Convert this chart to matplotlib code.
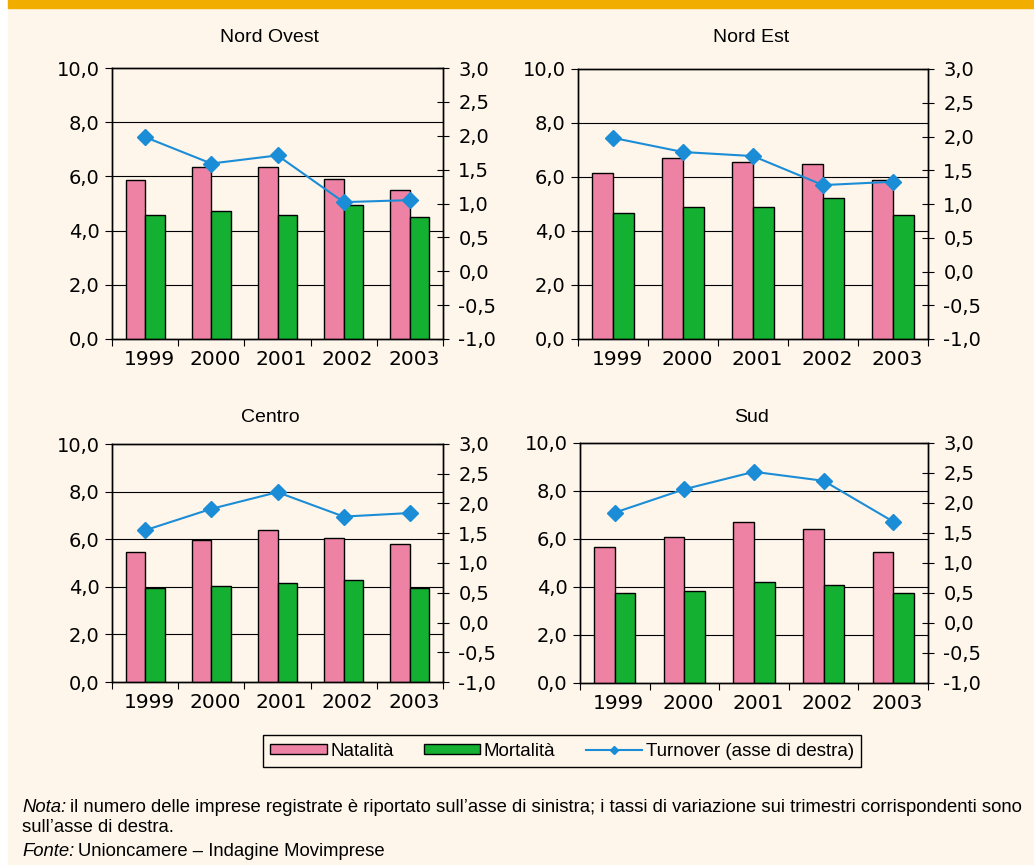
import matplotlib
matplotlib.use("Agg")
import matplotlib.pyplot as plt
import matplotlib.transforms as mtransforms
from matplotlib.patches import Rectangle, Patch
from matplotlib.lines import Line2D
from matplotlib.ticker import FuncFormatter
import numpy as np

years = ["1999", "2000", "2001", "2002", "2003"]

# tassi di natalità / mortalità (asse sinistro) e turnover (asse destro)
natalita_nord_ovest = [5.85, 6.33, 6.33, 5.92, 5.51]
mortalita_nord_ovest = [4.58, 4.73, 4.58, 4.93, 4.52]
turnover_nord_ovest = [1.98, 1.59, 1.71, 1.02, 1.05]

natalita_nord_est = [6.15, 6.70, 6.57, 6.49, 5.88]
mortalita_nord_est = [4.68, 4.88, 4.88, 5.21, 4.60]
turnover_nord_est = [1.98, 1.77, 1.71, 1.28, 1.33]

natalita_centro = [5.47, 5.96, 6.38, 6.04, 5.81]
mortalita_centro = [3.96, 4.04, 4.18, 4.28, 3.96]
turnover_centro = [1.55, 1.91, 2.19, 1.78, 1.84]

natalita_sud = [5.68, 6.07, 6.72, 6.40, 5.44]
mortalita_sud = [3.75, 3.85, 4.22, 4.08, 3.75]
turnover_sud = [1.84, 2.23, 2.52, 2.37, 1.69]

left_ticks = [0, 2, 4, 6, 8, 10]
right_ticks = [-1.0, -0.5, 0.0, 0.5, 1.0, 1.5, 2.0, 2.5, 3.0]

PINK = "#ee82a4"
GREEN = "#14b031"
BLUE = "#1b8dd6"
ORANGE = "#f2ae00"
BG = "#fef6eb"

W, H = 1034, 865
plt.rcParams["font.family"] = ["Liberation Sans", "DejaVu Sans"]
TICK_FONT = "DejaVu Sans"


def px_rect(l, t, r, b):
    return [l / W, 1 - b / H, (r - l) / W, (b - t) / H]


def comma(v, _=None):
    return f"{v:.1f}".replace(".", ",")


fig = plt.figure(figsize=(W / 100, H / 100), dpi=100, facecolor="white")

bg = fig.add_axes([0, 0, 1, 1], zorder=-1)
bg.set_xlim(0, W)
bg.set_ylim(H, 0)
bg.axis("off")
bg.add_patch(Rectangle((8, 0), W - 8, H, color=BG))
bg.add_patch(Rectangle((8, 0), W - 8, 8, color=ORANGE))

panels = [
    ("Nord Ovest", (112, 68, 443, 339), (270, 37),
     natalita_nord_ovest, mortalita_nord_ovest, turnover_nord_ovest),
    ("Nord Est", (578, 69, 928, 339), (751, 37),
     natalita_nord_est, mortalita_nord_est, turnover_nord_est),
    ("Centro", (112, 444, 443, 682), (270, 418),
     natalita_centro, mortalita_centro, turnover_centro),
    ("Sud", (580, 443, 928, 683), (752, 418),
     natalita_sud, mortalita_sud, turnover_sud),
]

x = np.arange(len(years))
bw = 0.295
for name, rect, tpos, nat, mor, turn in panels:
    ax = fig.add_axes(px_rect(*rect))
    ax.set_facecolor("none")
    ax.bar(x - bw / 2, nat, bw, color=PINK, edgecolor="black", linewidth=1, zorder=3)
    ax.bar(x + bw / 2, mor, bw, color=GREEN, edgecolor="black", linewidth=1, zorder=3)
    for g in left_ticks[1:-1]:
        ax.axhline(g, color="black", lw=0.8, zorder=1)
    ax.set_xlim(-0.5, len(years) - 0.5)
    ax.set_ylim(0, 10)
    ax.set_yticks(left_ticks)
    ax.yaxis.set_major_formatter(FuncFormatter(comma))
    ax.tick_params(axis="y", direction="out", length=5, width=0.8, pad=4, labelsize=14)
    ax.set_xticks(np.arange(-0.5, len(years), 1))
    ax.set_xticklabels([])
    ax.set_xticks(x, minor=True)
    ax.set_xticklabels(years, minor=True, fontsize=14.5)
    ax.tick_params(axis="x", which="major", direction="out", length=5, width=0.8)
    ax.tick_params(axis="x", which="minor", length=0, pad=8)
    shift = mtransforms.ScaledTranslation(4 / 100, 0, fig.dpi_scale_trans)
    for lab in ax.get_xticklabels(minor=True):
        lab.set_transform(lab.get_transform() + shift)
    for lab in ax.get_xticklabels(minor=True) + ax.get_yticklabels():
        lab.set_fontfamily(TICK_FONT)
    for sp in ax.spines.values():
        sp.set_linewidth(1)
        sp.set_color("black")

    ax2 = ax.twinx()
    ax2.plot(x, turn, color=BLUE, lw=1.5, marker="D", ms=8, zorder=5)
    ax2.set_ylim(-1, 3)
    ax2.set_yticks(right_ticks)
    ax2.yaxis.set_major_formatter(FuncFormatter(comma))
    ax2.tick_params(axis="y", direction="inout", length=8, width=0.8, pad=7, labelsize=14)
    for lab in ax2.get_yticklabels():
        lab.set_fontfamily(TICK_FONT)
    for sp in ax2.spines.values():
        sp.set_linewidth(1)

    fig.text(tpos[0] / W, 1 - tpos[1] / H, name, ha="center", va="center", fontsize=14)

handles = [
    Patch(facecolor=PINK, edgecolor="black", linewidth=1),
    Patch(facecolor=GREEN, edgecolor="black", linewidth=1),
    Line2D([], [], color=BLUE, lw=1.5, marker="D", ms=4),
]
labels = ["Natalità", "Mortalità", "Turnover (asse di destra)"]
leg = fig.legend(handles, labels, loc="center", bbox_to_anchor=(562 / W, 1 - 751 / H),
                 ncol=3, frameon=True, fancybox=False, edgecolor="black", facecolor=BG,
                 framealpha=1, fontsize=13.5, handlelength=3, handleheight=0.5,
                 columnspacing=1.6, handletextpad=0.2, borderpad=0.4)
leg.get_frame().set_linewidth(1)

FS = 13.3
t1 = bg.text(22, 808, "Nota:", style="italic", va="center", fontsize=FS)
bg.annotate("il numero delle imprese registrate è riportato sull’asse di sinistra; "
            "i tassi di variazione sui trimestri corrispondenti sono",
            xy=(1, 0), xycoords=t1, xytext=(3, 0), textcoords="offset points",
            va="bottom", fontsize=FS)
bg.text(22, 827, "sull’asse di destra.", va="center", fontsize=FS)
t2 = bg.text(22, 852, "Fonte:", style="italic", va="center", fontsize=FS)
bg.annotate("Unioncamere – Indagine Movimprese", xy=(1, 0), xycoords=t2,
            xytext=(3, 0), textcoords="offset points", va="bottom", fontsize=FS)

fig.savefig("out.png", dpi=100, facecolor=fig.get_facecolor())
